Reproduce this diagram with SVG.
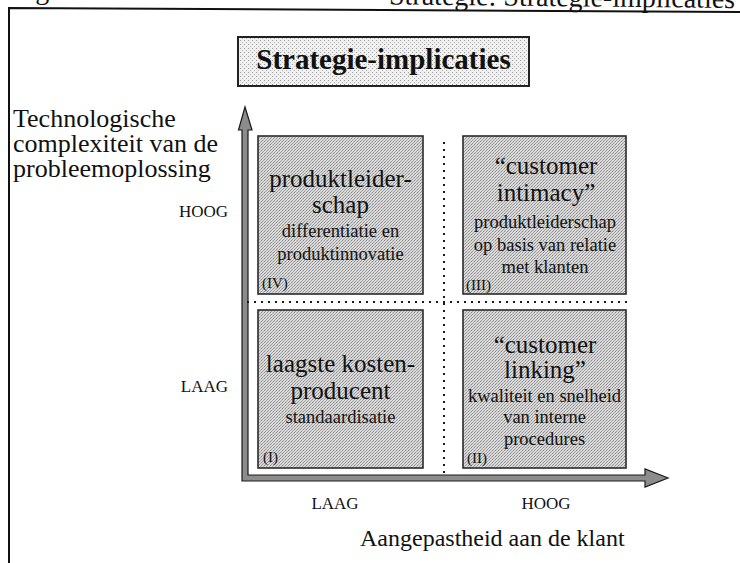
<svg xmlns="http://www.w3.org/2000/svg" width="740" height="563" viewBox="0 0 740 563">
  <defs>
    <!-- halftone-like fills -->
    <pattern id="screen" width="3" height="3" patternUnits="userSpaceOnUse">
      <rect width="3" height="3" fill="#d9d9d9"/>
      <rect x="0" y="0" width="1" height="1" fill="#8a8a8a"/>
      <rect x="2" y="1" width="1" height="1" fill="#a8a8a8"/>
      <rect x="1" y="2" width="1" height="1" fill="#9a9a9a"/>
    </pattern>
    <pattern id="screenLight" width="4" height="4" patternUnits="userSpaceOnUse">
      <rect width="4" height="4" fill="#f0f0f0"/>
      <rect x="0" y="0" width="1" height="1" fill="#9a9a9a"/>
      <rect x="2" y="2" width="1" height="1" fill="#b5b5b5"/>
    </pattern>
  </defs>
  <style>
    text { font-family: "Liberation Serif", "Times New Roman", serif; fill: #111; }
    .box { fill: url(#screen); stroke: #2a2a2a; stroke-width: 1.6; }
    .head { font-size: 25px; text-anchor: middle; }
    .sub { font-size: 18.5px; text-anchor: middle; }
    .num { font-size: 15px; }
    .axislbl { font-size: 17px; }
    .big { font-size: 26px; }
    .dots { stroke: #1a1a1a; stroke-width: 2; stroke-dasharray: 2 5; fill: none; }
    .axis { fill: #8c8c8c; stroke: #1a1a1a; stroke-width: 1.2; }
  </style>

  <rect width="740" height="563" fill="#ffffff"/>

  <!-- page caption, cut off at the top edge -->
  <text x="12" y="-1" style="font-size:28px">Figuur</text>
  <text x="735" y="8" style="font-size:28px" text-anchor="end" transform="rotate(0.6 735 8)">Strategie: Strategie-implicaties</text>

  <!-- outer frame -->
  <path d="M9,563 L9,8 L740,12" fill="none" stroke="#111" stroke-width="2"/>

  <!-- title -->
  <g id="title">
    <rect x="238" y="37" width="291" height="49" fill="url(#screenLight)" stroke="#222" stroke-width="2"/>
    <text x="383.5" y="69" text-anchor="middle" style="font-size:29px;font-weight:bold">Strategie-implicaties</text>
  </g>

  <!-- axis titles and levels -->
  <g id="y-title">
    <text class="big" x="13" y="127">Technologische</text>
    <text class="big" x="13" y="152">complexiteit van de</text>
    <text class="big" x="13" y="177">probleemoplossing</text>
  </g>
  <g id="y-levels">
    <text class="axislbl" x="228" y="217" text-anchor="end">HOOG</text>
    <text class="axislbl" x="228" y="392" text-anchor="end">LAAG</text>
  </g>
  <g id="x-levels">
    <text class="axislbl" x="335" y="509" text-anchor="middle">LAAG</text>
    <text class="axislbl" x="546" y="509" text-anchor="middle">HOOG</text>
  </g>
  <g id="x-title">
    <text x="360" y="546" style="font-size:24px">Aangepastheid aan de klant</text>
  </g>

  <!-- axes and quadrant dividers -->
  <g id="connectors">
    <polygon class="axis" points="242,481 242,130 238.5,130 245,107 252,130 248,130 248,475 645,475 645,469 668,478 645,487 645,481"/>
    <line class="dots" x1="444" y1="142" x2="444" y2="476"/>
    <line class="dots" x1="247" y1="302" x2="628" y2="302"/>
  </g>

  <!-- quadrant IV -->
  <g id="q4">
    <rect class="box" x="258" y="136" width="165" height="158"/>
    <text class="head" x="340.5" y="187">produktleider-</text>
    <text class="head" x="340.5" y="213">schap</text>
    <text class="sub" x="340.5" y="237">differentiatie en</text>
    <text class="sub" x="340.5" y="260">produktinnovatie</text>
    <text class="num" x="262" y="288">(IV)</text>
  </g>

  <!-- quadrant III -->
  <g id="q3">
    <rect class="box" x="463" y="136" width="163" height="158"/>
    <text class="head" x="546" y="174">“customer</text>
    <text class="head" x="546" y="201">intimacy”</text>
    <text class="sub" x="545" y="228">produktleiderschap</text>
    <text class="sub" x="545" y="251">op basis van relatie</text>
    <text class="sub" x="545" y="273">met klanten</text>
    <text class="num" x="466" y="290">(III)</text>
  </g>

  <!-- quadrant I -->
  <g id="q1">
    <rect class="box" x="258" y="310" width="165" height="158"/>
    <text class="head" x="340.5" y="372">laagste kosten-</text>
    <text class="head" x="340.5" y="399">producent</text>
    <text class="sub" x="340.5" y="423">standaardisatie</text>
    <text class="num" x="263" y="462">(I)</text>
  </g>

  <!-- quadrant II -->
  <g id="q2">
    <rect class="box" x="463" y="310" width="163" height="158"/>
    <text class="head" x="545" y="353">“customer</text>
    <text class="head" x="545" y="378">linking”</text>
    <text class="sub" x="544.5" y="402">kwaliteit en snelheid</text>
    <text class="sub" x="544.5" y="423">van interne</text>
    <text class="sub" x="544.5" y="445">procedures</text>
    <text class="num" x="467" y="463">(II)</text>
  </g>
</svg>
